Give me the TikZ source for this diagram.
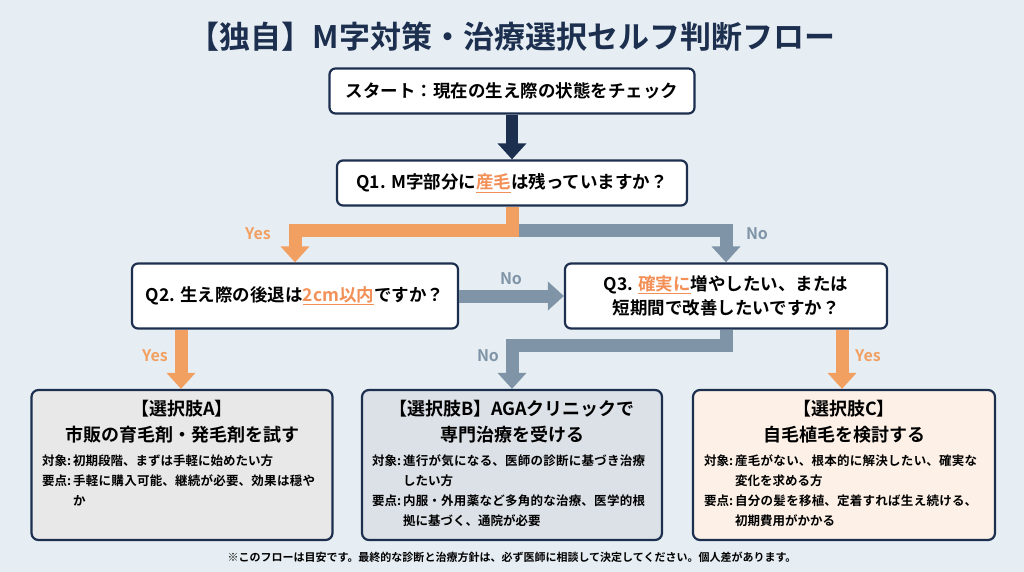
\documentclass[tikz,border=0pt]{standalone}
\usepackage{fontspec}
\setmainfont{Noto Sans CJK JP}[BoldFont={Noto Sans CJK JP Bold}]
\XeTeXlinebreaklocale "ja"
\XeTeXlinebreakskip=0pt plus 1pt
\usepackage{tikz}
\usetikzlibrary{arrows.meta,positioning,calc}
\definecolor{navy}{HTML}{1C2F4F}
\definecolor{ora}{HTML}{F2A062}
\definecolor{gry}{HTML}{7F95A7}
\definecolor{bgc}{HTML}{E7EEF3}
\newcommand{\hl}[1]{\textcolor{ora!90!red}{\underline{#1}}}
\newlength{\labw}
\newcommand{\pointline}[2]{\settowidth{\labw}{#1:\,}\hangindent=\labw\hangafter=1 \mbox{#1:}\,#2\par}

\begin{document}
\begin{tikzpicture}[x=1pt,y=-1pt,
			qbox/.style={shape=rectangle, rounded corners=6pt,
				draw=navy, line width=2.2pt, fill=white,
				font=\fontsize{17.5}{24}\selectfont\bfseries, align=center},
			cbox/.style={shape=rectangle, rounded corners=7pt,
				draw=navy, line width=2.2pt, inner sep=0pt},
			ctitle/.style={align=center, font=\fontsize{18}{26}\selectfont\bfseries},
			cdetail/.style={text width=280pt, font=\fontsize{12.5}{20}\selectfont\bfseries},
			flow/.style={line width=13pt, -{Triangle[width=28pt,length=16pt]}},
			lab/.style={font=\fontsize{16}{18}\selectfont\bfseries}]
			
			\fill[bgc] (0,0) rectangle (1024,572);
			\node[text=navy, font=\fontsize{31}{36}\selectfont\bfseries] (title) at (512,37)
				{【独自】M字対策・治療選択セルフ判断フロー};
			
			\node[qbox, minimum width=365pt, minimum height=45pt] (start) at (512,91)
				{スタート：現在の生え際の状態をチェック};
			\node[qbox, minimum width=350pt, minimum height=45pt] (q1) at (512,183)
				{Q1. M字部分に\hl{産毛}は残っていますか？};
			\node[qbox, minimum width=326pt, minimum height=65pt] (q2) at (295,296)
				{Q2. 生え際の後退は\hl{2cm以内}ですか？};
			\node[qbox, minimum width=322pt, minimum height=65pt] (q3) at (726,296)
				{Q3. \hl{確実に}増やしたい、または\\短期間で改善したいですか？};
			
			\node[cbox, fill=gray!18, minimum width=301pt, minimum height=150pt] (optA) at (182,465) {};
			\node[cbox, fill=gry!28, minimum width=300pt, minimum height=150pt] (optB) at (512,465) {};
			\node[cbox, fill=ora!15, minimum width=302pt, minimum height=150pt] (optC) at (844,465) {};
			
			% box contents
			\node[below=8pt of optA.north, ctitle] (tA)
				{【選択肢A】\\市販の育毛剤・発毛剤を試す};
			\node[below=4pt of tA, cdetail] (dA)
				{\pointline{対象}{初期段階、まずは手軽に始めたい方}\pointline{要点}{手軽に購入可能、継続が必要、効果は穏やか}};
			\node[below=8pt of optB.north, ctitle] (tB)
				{【選択肢B】AGAクリニックで\\専門治療を受ける};
			\node[below=4pt of tB, cdetail] (dB)
				{\pointline{対象}{進行が気になる、医師の診断に基づき治療したい方}\pointline{要点}{内服・外用薬など多角的な治療、医学的根拠に基づく、通院が必要}};
			\node[below=8pt of optC.north, ctitle] (tC)
				{【選択肢C】\\自毛植毛を検討する};
			\node[below=4pt of tC, cdetail] (dC)
				{\pointline{対象}{産毛がない、根本的に解決したい、確実な変化を求める方}\pointline{要点}{自分の髪を移植、定着すれば生え続ける、初期費用がかかる}};
			
			\node[font=\fontsize{11}{13}\selectfont\bfseries] (note) at (512,557)
				{※このフローは目安です。最終的な診断と治療方針は、必ず医師に相談して決定してください。個人差があります。};
			
			% connectors
			\coordinate (split) at (512,230);
			\draw[flow, navy, line width=12pt] (start) -- (q1);
			\draw[flow, gry] (q1.south) -- (split) -| (q3.north);
			\draw[flow, ora] (q1.south) |- (split) -| (q2.north);
			\draw[flow, gry] (q2) -- (q3);
			\draw[flow, gry] (q3.south) |- (512,345) -- (optB.north);
			\draw[flow, ora] (q2.south -| 181,0) -- (optA.north -| 181,0);
			\draw[flow, ora] (q3.south -| 842,0) -- (optC.north -| 842,0);
			
			\node[lab, text=ora] (y1) at (258,234) {Yes};
			\node[lab, text=gry] (n1) at (757,234) {No};
			\node[lab, text=gry] (n2) at (511,279) {No};
			\node[lab, text=ora] (y2) at (155,356) {Yes};
			\node[lab, text=gry] (n3) at (488,356) {No};
			\node[lab, text=ora] (y3) at (868,356) {Yes};
		\end{tikzpicture}
\end{document}
